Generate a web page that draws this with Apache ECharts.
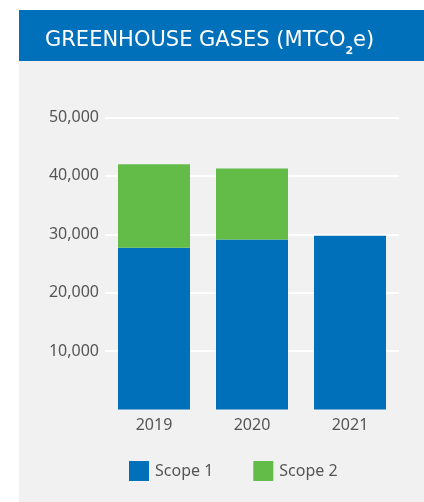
<!DOCTYPE html>
<html>
<head>
<meta charset="utf-8">
<script src="https://cdn.jsdelivr.net/npm/echarts@6/dist/echarts.min.js"></script>
<style>
  html, body { margin: 0; padding: 0; background: #fff; }
  #chart { width: 424px; height: 502px; }
</style>
</head>
<body>
<div id="chart"></div>
<script>
var years = ['2019', '2020', '2021'];
var scope1 = [27700, 29100, 29750];
var scope2 = [14300, 12150, 0];
var yTicks = [0, 10000, 20000, 30000, 40000, 50000];

var FONT = 'Noto Sans';
var TITLE_FONT = 'DejaVu Sans';
var chart = echarts.init(document.getElementById('chart'));

var option = {
  backgroundColor: '#ffffff',
  textStyle: { fontFamily: FONT },
  graphic: [
    { type: 'rect', shape: { x: 19, y: 61, width: 405, height: 441 }, style: { fill: '#f1f1f1' }, z: -10 },
    { type: 'rect', shape: { x: 19, y: 10, width: 405, height: 51 }, style: { fill: '#0070ba' }, z: -10 }
  ],
  title: {
    text: '{t|GREENHOUSE GASES (MTCO}{s|2}{t|e)}',
    left: 40,
    top: 23,
    textStyle: {
      rich: {
        t: { fontFamily: TITLE_FONT, fontSize: 21, color: '#fff', fontWeight: 'normal', lineHeight: 26 },
        s: { fontFamily: TITLE_FONT, fontSize: 11, color: '#fff', lineHeight: 26, padding: [20, 0, 0, 0] }
      }
    }
  },
  legend: {
    left: 124,
    top: 456,
    itemWidth: 20,
    itemHeight: 20,
    itemGap: 40,
    icon: 'rect',
    textStyle: { fontFamily: FONT, fontSize: 16, color: '#555', padding: [0, 0, 0, 1] },
    data: ['Scope 1', 'Scope 2']
  },
  grid: { left: 105, right: 25, top: 117.5, bottom: 92.5, containLabel: false },
  xAxis: {
    type: 'category',
    data: years,
    axisLine: { show: false },
    axisTick: { show: false },
    axisLabel: { fontFamily: FONT, fontSize: 16, color: '#555', margin: 8 }
  },
  yAxis: {
    type: 'value',
    min: yTicks[0],
    max: yTicks[yTicks.length - 1],
    interval: 10000,
    axisLine: { show: false },
    axisTick: { show: false },
    axisLabel: {
      fontFamily: FONT, fontSize: 16, color: '#555', margin: 6, showMinLabel: false,
      formatter: function (v) { return v.toLocaleString('en-US'); }
    },
    splitLine: { lineStyle: { color: ['rgba(0,0,0,0)', '#fff', '#fff', '#fff', '#fff', '#fff'], width: 2 } }
  },
  series: [
    { name: 'Scope 1', type: 'bar', stack: 'ghg', barWidth: 72, data: scope1, itemStyle: { color: '#0070ba' } },
    { name: 'Scope 2', type: 'bar', stack: 'ghg', barWidth: 72, data: scope2, itemStyle: { color: '#63bc48' } }
  ]
};
chart.setOption(option);
</script>
</body>
</html>
